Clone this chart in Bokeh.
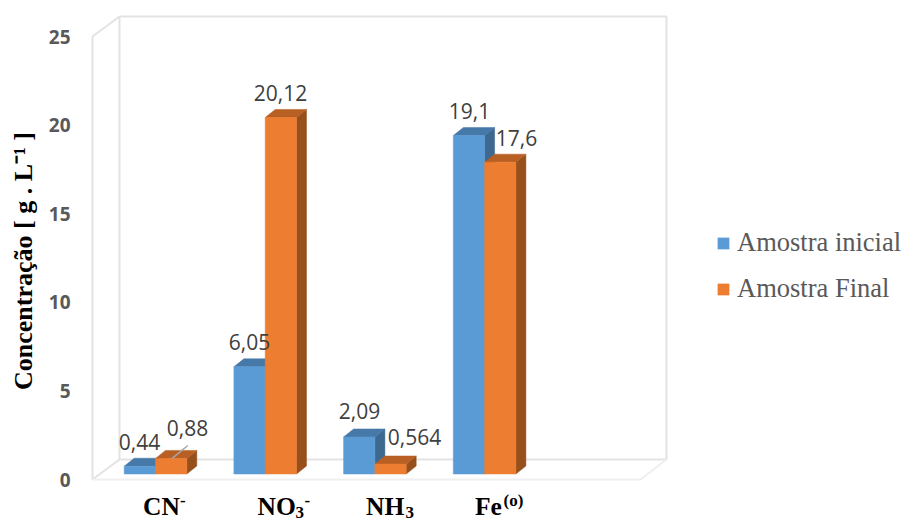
from bokeh.core.properties import value
from bokeh.embed import file_html
from bokeh.models import FixedTicker, Legend, LegendItem, LinearAxis, Range1d
from bokeh.plotting import figure
from bokeh.resources import INLINE

# Chart data
categories = ["CN", "NO", "NH", "Fe"]
amostra_inicial = [0.44, 6.05, 2.09, 19.1]
amostra_final = [0.88, 20.12, 0.564, 17.6]
inicial_labels = ["0,44", "6,05", "2,09", "19,1"]
final_labels = ["0,88", "20,12", "0,564", "17,6"]
y_ticks = [0, 5, 10, 15, 20, 25]
series_names = ["Amostra inicial", "Amostra Final"]
y_title = "Concentração [ g . L⁻¹ ]"

# Page geometry (pixels)
W, H = 902, 521
FRAME_LEFT = 78
BAR_ZERO_PY = 473.5
FRONT_ZERO_PY = 479.0
PX_PER_UNIT = 17.72
PX_PER_CAT = 109.7
FIRST_CAT_PX = 155.0
BAR_PX = 31.3
DEPTH_DX = 10.0
DEPTH_DY = 8.0


def X(px):
    return (px - FIRST_CAT_PX) / PX_PER_CAT


def Y(py):
    return (BAR_ZERO_PY - py) / PX_PER_UNIT


p = figure(
    width=W, height=H, output_backend="svg", toolbar_location=None, tools="",
    x_range=Range1d(X(FRAME_LEFT), X(W)), y_range=Range1d(Y(H), Y(0)),
    x_axis_location=None, y_axis_location=None,
    min_border_left=FRAME_LEFT, min_border_right=0, min_border_top=0, min_border_bottom=0,
    outline_line_color=None, background_fill_color="white", border_fill_color="white",
)
p.grid.visible = False

# Value axis sits on the front edge of the box, slightly below the bars' plane
p.extra_y_ranges["front"] = Range1d(
    (FRONT_ZERO_PY - H) / PX_PER_UNIT, FRONT_ZERO_PY / PX_PER_UNIT
)
axis = LinearAxis(
    y_range_name="front", ticker=FixedTicker(ticks=y_ticks),
    axis_line_color=None, major_tick_line_color=None, minor_tick_line_color=None,
    major_tick_out=0, major_tick_in=0, minor_tick_out=0, minor_tick_in=0,
    major_label_text_font="Open Sans", major_label_text_font_style="bold",
    major_label_text_font_size="19px", major_label_text_color="#595959",
    major_label_standoff=8,
    axis_label=y_title, axis_label_text_font="Liberation Serif",
    axis_label_text_font_style="bold", axis_label_text_font_size="26px",
    axis_label_text_color="#000000", axis_label_standoff=8,
)
p.add_layout(axis, "left")

# Box walls and floor
wall_color = "#E3E3E3"
p.multi_line(
    xs=[[X(119), X(666), X(666), X(119), X(119)],
        [X(119), X(92), X(92), X(119)]],
    ys=[[Y(16), Y(16), Y(459), Y(459), Y(16)],
        [Y(16), Y(36), Y(479), Y(459)]],
    line_color=wall_color, line_width=2,
)
p.line([X(92), X(640), X(666)], [Y(479), Y(479), Y(459)], line_color="#EFEFEF", line_width=2)

bar_w = BAR_PX / PX_PER_CAT
dx = DEPTH_DX / PX_PER_CAT
dy = DEPTH_DY / PX_PER_UNIT


def draw_series(values, left_shift, front, top, side):
    lefts = [i + left_shift for i in range(len(values))]
    rights = [l + bar_w for l in lefts]
    p.patches(
        xs=[[r, r + dx, r + dx, r] for r in rights],
        ys=[[0, dy, v + dy, v] for v in values],
        fill_color=side, line_color=side, line_width=0.5,
    )
    p.patches(
        xs=[[l, l + dx, r + dx, r] for l, r in zip(lefts, rights)],
        ys=[[v, v + dy, v + dy, v] for v in values],
        fill_color=top, line_color=top, line_width=0.5,
    )
    return p.quad(
        left=lefts, right=rights, bottom=[0] * len(values), top=values,
        fill_color=front, line_color=front, line_width=0.5,
    )


blue_r = draw_series(amostra_inicial, -bar_w, "#5B9BD5", "#4678A8", "#3D6990")
orange_r = draw_series(amostra_final, 0, "#ED7D31", "#B85F23", "#97501C")

# Leader line from the 0,88 label down to its bar
p.segment(x0=[X(171.7)], y0=[amostra_final[0]], x1=[X(187.3)], y1=[Y(445)],
          line_color="#A6A6A6", line_width=1.5)


# Value labels: horizontal centre in pixels, vertical gap above the bar in pixels
def value_text(values, labels, centers, gaps):
    p.text(
        x=[X(c) for c in centers],
        y=[v + g / PX_PER_UNIT for v, g in zip(values, gaps)],
        text=labels, text_font=value("Open Sans"), text_font_size="21px",
        text_color="#404040", text_align="center", text_baseline="middle",
    )


value_text(amostra_inicial, inicial_labels, [139, 249, 359, 469], [24.5, 25, 25.5, 25])
value_text(amostra_final, final_labels, [187, 280, 414, 516], [30, 24.5, 27.5, 24.5])


# Category names with their chemical sub- and superscripts; py is the text's visual centre
def serif_piece(px, py, text, size):
    p.text(
        x=[X(px)], y=[Y(py)], text=[text], text_font=value("Liberation Serif"),
        text_font_style="bold", text_font_size=f"{size}px", text_color="#000000",
        text_baseline="middle", text_align="left",
    )


base_starts = [142.5, 257, 365.5, 474.5]
for name, start in zip(categories, base_starts):
    serif_piece(start, 505.5, name, 25.5)
serif_piece(179.5, 500, "-", 17)
serif_piece(295, 511.5, "3", 17)
serif_piece(304, 500, "-", 17)
serif_piece(405, 511.5, "3", 17)
serif_piece(503, 500, "(o)", 17)

legend = Legend(
    items=[LegendItem(label=series_names[0], renderers=[blue_r], index=0),
           LegendItem(label=series_names[1], renderers=[orange_r], index=0)],
    location=(718 - FRAME_LEFT - 2, H - 304),
    orientation="vertical", background_fill_alpha=0, border_line_color=None,
    glyph_width=14, glyph_height=14, label_standoff=7, spacing=15,
    label_height=25, margin=0, padding=2,
    label_text_font="Liberation Serif", label_text_font_size="26.5px",
    label_text_color="#595959",
)
p.add_layout(legend)

open("out.html", "w").write(file_html(p, INLINE))
